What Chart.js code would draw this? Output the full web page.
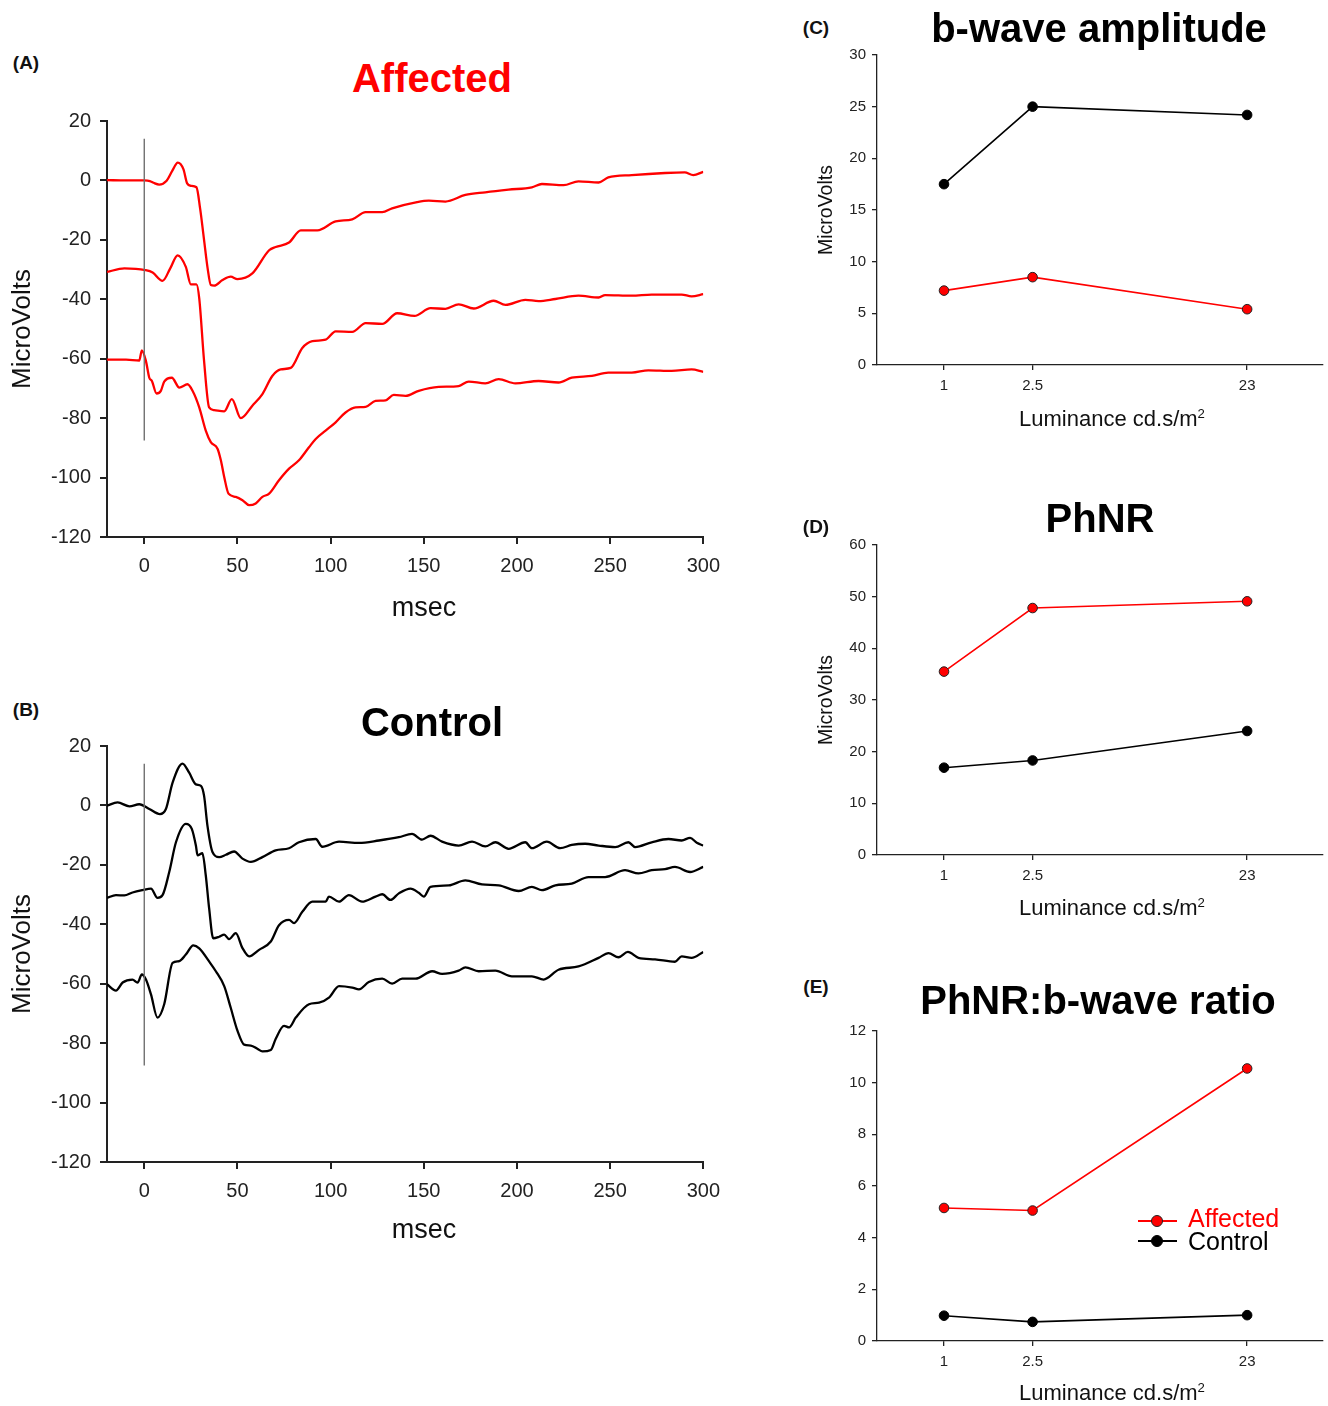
<!DOCTYPE html>
<html><head><meta charset="utf-8">
<script src="https://cdn.jsdelivr.net/npm/chart.js"></script>
<style>
body{margin:0;background:#fff;width:1328px;height:1406px;position:relative;overflow:hidden;font-family:"Liberation Sans",Arial,sans-serif;}
canvas{position:absolute;}
.lbl{position:absolute;font-weight:bold;font-size:19px;transform:translate(-50%,-50%);line-height:1;white-space:nowrap;color:#111}
.title{position:absolute;font-weight:bold;font-size:40px;transform:translate(-50%,-50%);line-height:1;white-space:nowrap;color:#000}
.xt{position:absolute;transform:translate(-50%,-50%);line-height:1;white-space:nowrap;color:#111}
.xt sup{font-size:0.6em;line-height:0;vertical-align:0.6em}
.leg{position:absolute;font-size:25px;line-height:1;white-space:nowrap;transform:translateY(-50%)}
.legline{position:absolute;height:2px;width:39px}
.legdot{position:absolute;width:12px;height:12px;border-radius:50%;transform:translate(-50%,-50%);box-sizing:border-box}
</style>
</head><body>
<canvas id="cA" width="730" height="540" style="left:0;top:100px"></canvas>
<canvas id="cB" width="730" height="540" style="left:0;top:725px"></canvas>
<canvas id="cC" width="548" height="410" style="left:780px;top:40px"></canvas>
<canvas id="cD" width="548" height="410" style="left:780px;top:530px"></canvas>
<canvas id="cE" width="548" height="390" style="left:780px;top:1016px"></canvas>

<div class="lbl" style="left:26px;top:62px">(A)</div>
<div class="lbl" style="left:26px;top:709px">(B)</div>
<div class="lbl" style="left:816px;top:27px">(C)</div>
<div class="lbl" style="left:816px;top:526px">(D)</div>
<div class="lbl" style="left:816px;top:986px">(E)</div>
<div class="title" style="left:432px;top:78px;color:#ff0000">Affected</div>
<div class="title" style="left:432px;top:722px">Control</div>
<div class="title" style="left:1099px;top:28px">b-wave amplitude</div>
<div class="title" style="left:1100px;top:518px">PhNR</div>
<div class="title" style="left:1098px;top:1000px">PhNR:b-wave ratio</div>

<div class="xt" style="left:424px;top:607px;font-size:27px">msec</div>
<div class="xt" style="left:424px;top:1229px;font-size:27px">msec</div>
<div class="xt" style="left:1112px;top:419px;font-size:22px">Luminance cd.s/m<sup>2</sup></div>
<div class="xt" style="left:1112px;top:908px;font-size:22px">Luminance cd.s/m<sup>2</sup></div>
<div class="xt" style="left:1112px;top:1393px;font-size:22px">Luminance cd.s/m<sup>2</sup></div>

<div class="legline" style="left:1138px;top:1220px;background:#ff0000"></div>
<div class="legdot" style="left:1157px;top:1221px;background:#ff0000;border:1px solid #222"></div>
<div class="leg" style="left:1188px;top:1218px;color:#ff0000">Affected</div>
<div class="legline" style="left:1138px;top:1240px;background:#000"></div>
<div class="legdot" style="left:1157px;top:1241px;background:#000;border:1px solid #000"></div>
<div class="leg" style="left:1188px;top:1241px;color:#000">Control</div>

<script>
// ---------- Panel A: Affected ERG traces (msec, microvolts) ----------
const affT1 = [-20,-10,0,3,5,8,12,15,18,21,23,25,28,30,32,34,35.7,37.5,42,46.4,50,58,67,70.5,77.7,84,92.9,102.7,111.6,118.8,127.7,133,146.4,152.7,161.6,172.3,183,195.5,208,213.4,225,233,243.8,249,261.6,279.5,290,294.6,300];
const affV1 = [0.1,0,0,-0.2,-0.8,-1.4,-0.1,3.2,6,3.8,-1.0,-1.8,-2.3,-9.6,-19.6,-29.6,-35.2,-35.4,-33.5,-32.4,-33.2,-31.3,-23.5,-22.4,-20.9,-16.8,-16.8,-13.8,-13.1,-10.7,-10.7,-9.4,-7.3,-6.8,-7.1,-4.9,-4.0,-3.1,-2.3,-1.2,-1.6,-0.3,-0.7,1.0,1.8,2.5,2.7,1.8,2.9];
const affT2 = [-20,-10.7,0.6,4.5,9.8,14,17.9,22.3,25,28,29.5,32.1,34.8,37.5,42.9,47,51.8,58,63.4,68.7,73.2,78.6,84.8,90.2,97.3,102.7,111.6,118.8,127.7,135.7,145,153.6,161.6,168.7,176.8,187.5,193.8,204.5,211.6,220.6,233,243.8,247.3,261.6,272.3,288.4,293.7,300];
const affV2 = [-30.8,-29.6,-30.2,-31,-33.8,-29.5,-25.2,-29.1,-35,-35,-39.7,-60.8,-76.4,-77.3,-77.7,-73.6,-80,-75.8,-71.9,-65.8,-63.6,-63.1,-56.4,-54.1,-53.6,-50.8,-51,-48,-48.3,-44.7,-45.6,-43,-43.2,-41.7,-43.1,-40.5,-41.9,-40.2,-40.6,-39.9,-38.8,-39.4,-38.6,-38.8,-38.4,-38.4,-39,-38.3];
const affT3 = [-20,-9.8,-2.7,-1.3,0.9,2.7,4.1,6.6,8.9,10.7,14.8,18.8,23.2,25.9,29.5,33,35.7,39.3,41.1,42.9,45.2,49.1,52.7,56.3,59.8,63.4,67,72.3,77.7,83,88.4,92,97.3,102.7,108,113.4,118.8,124.1,129.5,133.9,140.2,147.3,158,168.7,174.1,183,190.2,199.1,211.6,222.3,229.4,240.2,249,261.6,270.5,283,293.7,300];
const affV3 = [-60.3,-60.3,-60.6,-57.2,-60.8,-66.4,-67.5,-71.7,-70.8,-67.7,-66.4,-69.7,-68.6,-70.8,-76.4,-84.2,-88.1,-90.3,-94.2,-99.8,-105.4,-106.5,-107.6,-109.3,-108.7,-106.5,-105.4,-100.9,-97,-94.2,-89.8,-87,-84.2,-81.4,-78.1,-76.4,-76.2,-74.2,-74,-72.2,-72.5,-70.8,-69.5,-69.2,-67.7,-68.3,-66.9,-68.3,-67.5,-68,-66.4,-65.8,-64.7,-64.7,-63.9,-64.1,-63.6,-64.4];

// ---------- Panel B: Control ERG traces ----------
const ctlT1 = [-20,-14.3,-8,-2.7,2.7,8.4,11.6,15.2,20.5,24.1,27.7,30.4,32.1,33.9,36.6,40.2,43.8,48.2,52.7,57.2,63.4,70.5,77.7,83,92,95.5,104.5,115.2,125.9,136.6,143.7,149.1,153.6,159.8,168.7,175.9,183,188.4,195.5,204.5,208,216,223.2,229.4,236.6,243.8,252.7,259.8,263.4,272.3,281.3,288.4,292.9,296.5,300];
const ctlV1 = [-0.1,1.0,-0.3,0.4,-1.2,-2.9,-1.2,7.7,14.1,11,7.1,6.6,3.2,-6.8,-15.7,-17.4,-16.6,-15.5,-17.9,-19,-17.4,-15.1,-14.4,-12.4,-11.3,-13.9,-12.2,-12.6,-11.8,-10.7,-9.6,-11.5,-10.2,-12.2,-13.5,-12.2,-13.8,-12.4,-14.6,-12.4,-14.4,-12.2,-14.4,-13.3,-12.9,-13.5,-14,-12.4,-14,-12.4,-11.3,-11.8,-10.9,-12.6,-13.5];
const ctlT2 = [-20,-15.2,-10.7,-6.3,-0.9,3.6,7.1,9.8,13.4,17,22.3,25.5,27.7,28.6,31.2,33,34.8,37,40.2,42.9,45.5,49.1,52.7,56.3,61.6,67.9,72.3,77.7,80.4,84.8,90.2,97.3,99.1,104.5,109.8,116.9,124.1,127.7,132.1,136.6,142.9,147.3,150,153.6,163.4,172.3,181.2,190.2,200.9,208,213.4,220.6,229.4,238.4,247.3,258,265.2,272.3,279.5,284.8,292.9,300];
const ctlV2 = [-31.1,-30.2,-30.3,-29.3,-28.5,-28,-31.1,-30.2,-22.4,-12.4,-6.2,-7.9,-13.5,-16.8,-16.1,-23.5,-34.6,-44.7,-44.2,-43.5,-45,-43,-48,-50.8,-48.6,-45.8,-40.3,-38.5,-39.6,-35.8,-32.4,-32.4,-30.7,-32.4,-30.2,-32.4,-30.7,-29.9,-31.8,-29.6,-28,-29.4,-30.7,-27.4,-26.9,-25.2,-26.6,-26.9,-28.8,-27.4,-28.5,-26.9,-26.3,-24.1,-24.1,-21.8,-22.9,-21.8,-21.4,-20.7,-22.4,-20.7];
const ctlT3 = [-20,-15.2,-11.6,-6.3,-3.6,-1.3,0.9,3.6,7.1,10.7,15.2,18.8,22.3,26.3,29.5,34.8,38.4,42.9,46.4,50,53.6,57.2,60.7,63.4,67.9,70.5,75,77.7,81.3,88.4,93.8,99.1,104.5,111.6,115.2,120.5,127.7,133,138.4,145.5,154.5,159.8,168.7,172.3,179.5,188.4,197.3,208,214.3,222.3,233,243.8,249.1,254.5,259.5,265.2,274.1,284.8,288.4,293.7,300];
const ctlV3 = [-60.2,-62.3,-59.6,-58.6,-59.6,-56.9,-58.6,-63.6,-71.4,-66.9,-53,-52.4,-50.2,-47.1,-48.1,-52.5,-55.8,-60.8,-68.1,-75.8,-80.5,-80.8,-81.9,-82.8,-82.3,-78.6,-74.2,-74.7,-71.4,-66.9,-66.4,-64.7,-60.8,-61.3,-61.9,-59.4,-58.3,-60,-58.3,-58.3,-55.8,-56.7,-55.6,-54.5,-55.8,-55.6,-57.5,-57.5,-58.6,-55.3,-54.2,-51.3,-49.7,-51.1,-49.3,-51.3,-51.8,-52.6,-50.8,-51.3,-49.3];

// stimulus marker (vertical line at flash onset)
const stimT = [0, 0];
const stimV = [14, -87.5];
const msecTicks = [0, 50, 100, 150, 200, 250, 300];

// ---------- Panels C-E ----------
const luminance = [1, 2.5, 23];
const lumTicks = [1, 2.5, 23];
const bwaveAffected = [7.2, 8.5, 5.4];
const bwaveControl = [17.5, 25.0, 24.2];
const phnrAffected = [35.5, 47.8, 49.1];
const phnrControl = [16.9, 18.3, 24.0];
const ratioAffected = [5.15, 5.05, 10.55];
const ratioControl = [0.98, 0.74, 1.0];

const FAM = '"Liberation Sans", Arial, sans-serif';
const INK = '#222';
const RED = '#ff0000';

function pts(xs, ys){ return xs.map((x,i)=>({x:x, y:ys[i]})); }

function ergChart(id, traces, color){
  const ds = [{data: pts(stimT, stimV), borderColor:'#707070', borderWidth:1.4, pointRadius:0, tension:0}];
  traces.forEach(t => ds.push({data: pts(t[0], t[1]), borderColor: color, borderWidth: 2.3, pointRadius: 0, cubicInterpolationMode:'monotone'}));
  return new Chart(document.getElementById(id), {
    type: 'line',
    data: { datasets: ds },
    options: {
      responsive: false, animation: false,
      layout: { padding: { left: 0, top: 18, right: 25, bottom: 0 } },
      plugins: { legend: { display: false }, tooltip: { enabled: false } },
      scales: {
        x: {
          type: 'linear', min: -20, max: 300,
          afterBuildTicks: s => { s.ticks = msecTicks.map(v => ({ value: v })); },
          afterFit: s => { s.height = 103; },
          grid: { display: true, drawOnChartArea: false, drawTicks: true, tickLength: 7, color: INK, lineWidth: 2 },
          border: { display: true, color: INK, width: 2 },
          ticks: { padding: 10, color: INK, font: { size: 20, family: FAM } },
          title: { display: false }
        },
        y: {
          type: 'linear', min: -120, max: 20,
          afterFit: s => { s.width = 107; },
          grid: { display: true, drawOnChartArea: false, drawTicks: true, tickLength: 7, color: INK, lineWidth: 2 },
          border: { display: true, color: INK, width: 2 },
          ticks: { stepSize: 20, padding: 9, color: INK, font: { size: 20, family: FAM } },
          title: { display: true, text: 'MicroVolts', color: '#111', font: { size: 26, family: FAM }, padding: { top: 7, bottom: 0 } }
        }
      }
    }
  });
}

ergChart('cA', [[affT1, affV1], [affT2, affV2], [affT3, affV3]], RED);
ergChart('cB', [[ctlT1, ctlV1], [ctlT2, ctlV2], [ctlT3, ctlV3]], '#000');

function lumChart(id, aff, ctl, yMax, yStep, xAxisH, showYTitle){
  return new Chart(document.getElementById(id), {
    type: 'line',
    data: { datasets: [
      { label: 'Control', data: pts(luminance, ctl), borderColor: '#000', borderWidth: 1.6, tension: 0,
        pointRadius: 4.8, pointBackgroundColor: '#000', pointBorderColor: '#000', pointBorderWidth: 1 },
      { label: 'Affected', data: pts(luminance, aff), borderColor: RED, borderWidth: 1.6, tension: 0,
        pointRadius: 4.8, pointBackgroundColor: RED, pointBorderColor: '#222', pointBorderWidth: 1 }
    ] },
    options: {
      responsive: false, animation: false,
      layout: { padding: { left: 0, top: 11, right: 3, bottom: 0 } },
      plugins: { legend: { display: false }, tooltip: { enabled: false } },
      scales: {
        x: {
          type: 'logarithmic', min: 0.5, max: 50,
          afterBuildTicks: s => { s.ticks = lumTicks.map(v => ({ value: v })); },
          afterFit: s => { s.height = xAxisH; },
          grid: { display: true, drawOnChartArea: false, drawTicks: true, tickLength: 5, color: INK, lineWidth: 1.3 },
          border: { display: true, color: INK, width: 1.3 },
          ticks: { padding: 7, color: INK, font: { size: 15, family: FAM }, callback: v => String(v), autoSkip: false, maxRotation: 0 },
          title: { display: false }
        },
        y: {
          type: 'linear', min: 0, max: yMax,
          afterFit: s => { s.width = 97; },
          grid: { display: true, drawOnChartArea: false, drawTicks: true, tickLength: 5, color: INK, lineWidth: 1.3 },
          border: { display: true, color: INK, width: 1.3 },
          ticks: { stepSize: yStep, padding: 6, color: INK, font: { size: 15, family: FAM } },
          title: { display: showYTitle, text: 'MicroVolts', color: '#111', font: { size: 19.5, family: FAM }, padding: { top: 35, bottom: 0 } }
        }
      }
    }
  });
}

lumChart('cC', bwaveAffected, bwaveControl, 30, 5, 85, true);
lumChart('cD', phnrAffected, phnrControl, 60, 10, 85, true);
lumChart('cE', ratioAffected, ratioControl, 12, 2, 65, false);
</script>
</body></html>
